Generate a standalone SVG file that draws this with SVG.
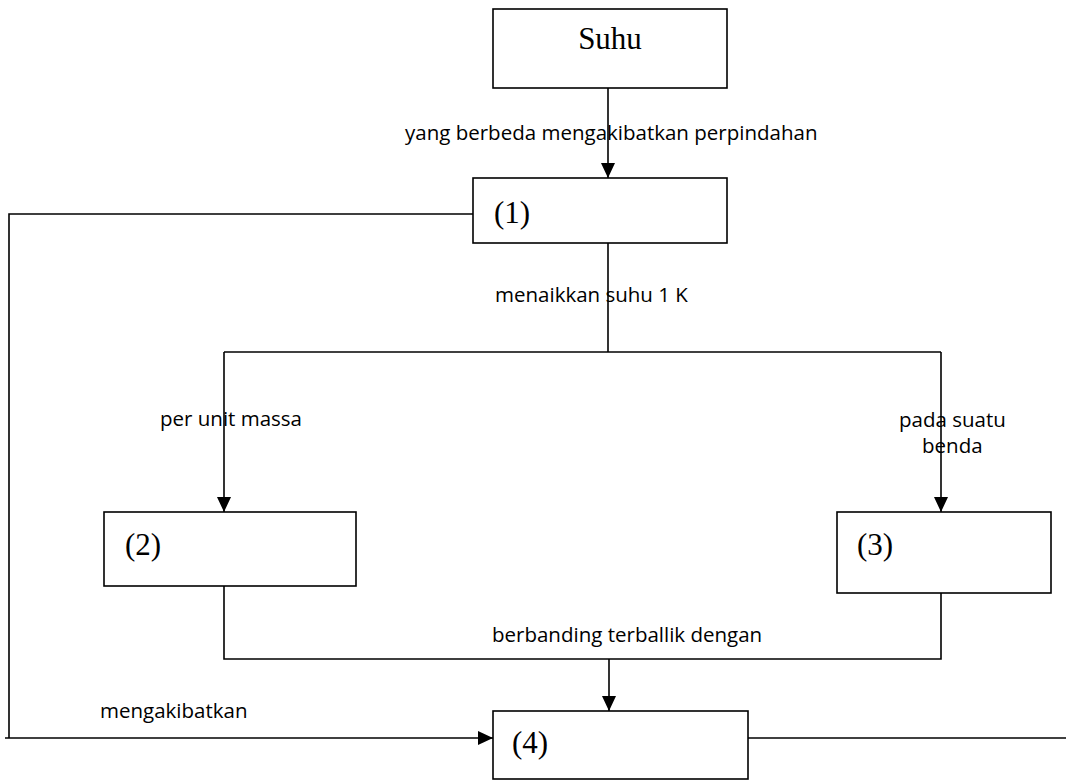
<svg xmlns="http://www.w3.org/2000/svg" width="1078" height="780" viewBox="0 0 1078 780">
<style>
.box{fill:#fff;stroke:#000;stroke-width:1.6}
.ln{fill:none;stroke:#000;stroke-width:1.6}
.t{font-family:"Liberation Serif",serif;font-size:31px;fill:#000}
.l{font-family:"Open Sans","Liberation Sans",sans-serif;font-size:20.5px;fill:#000}
</style>
<defs>
<marker id="ah" viewBox="0 0 15 14" refX="15" refY="7" markerWidth="15" markerHeight="14" markerUnits="userSpaceOnUse" orient="auto">
<path d="M0,0 L15,7 L0,14 Z" fill="#000"/>
</marker>
</defs>
<rect width="1078" height="780" fill="#fff"/>
<g id="connectors">
<line class="ln" x1="608" y1="76" x2="608" y2="178" marker-end="url(#ah)"/>
<polyline class="ln" points="473,214 9,214 9,738"/>
<line class="ln" x1="5" y1="738" x2="493" y2="738" marker-end="url(#ah)"/>
<line class="ln" x1="608" y1="243" x2="608" y2="352"/>
<line class="ln" x1="224" y1="352" x2="941" y2="352"/>
<line class="ln" x1="224" y1="352" x2="224" y2="512" marker-end="url(#ah)"/>
<line class="ln" x1="941" y1="352" x2="941" y2="512" marker-end="url(#ah)"/>
<polyline class="ln" points="224,586 224,659 941,659 941,593"/>
<line class="ln" x1="609" y1="659" x2="609" y2="711" marker-end="url(#ah)"/>
<line class="ln" x1="748" y1="738" x2="1066" y2="738"/>
<text class="l" x="405" y="140">yang berbeda mengakibatkan perpindahan</text>
<text class="l" x="495" y="302">menaikkan suhu 1 K</text>
<text class="l" x="160" y="426">per unit massa</text>
<text class="l" x="899" y="427">pada suatu</text>
<text class="l" x="922" y="453">benda</text>
<text class="l" x="492" y="642">berbanding terballik dengan</text>
<text class="l" x="100" y="718">mengakibatkan</text>
</g>
<g id="suhu"><rect class="box" x="493" y="9" width="234" height="79"/><text class="t" x="610" y="49" text-anchor="middle">Suhu</text></g>
<g id="n1"><rect class="box" x="473" y="178" width="254" height="65"/><text class="t" x="494" y="223">(1)</text></g>
<g id="n2"><rect class="box" x="104" y="512" width="252" height="74"/><text class="t" x="125" y="555">(2)</text></g>
<g id="n3"><rect class="box" x="837" y="512" width="214" height="81"/><text class="t" x="857" y="555">(3)</text></g>
<g id="n4"><rect class="box" x="493" y="711" width="255" height="68"/><text class="t" x="512" y="753">(4)</text></g>
</svg>
